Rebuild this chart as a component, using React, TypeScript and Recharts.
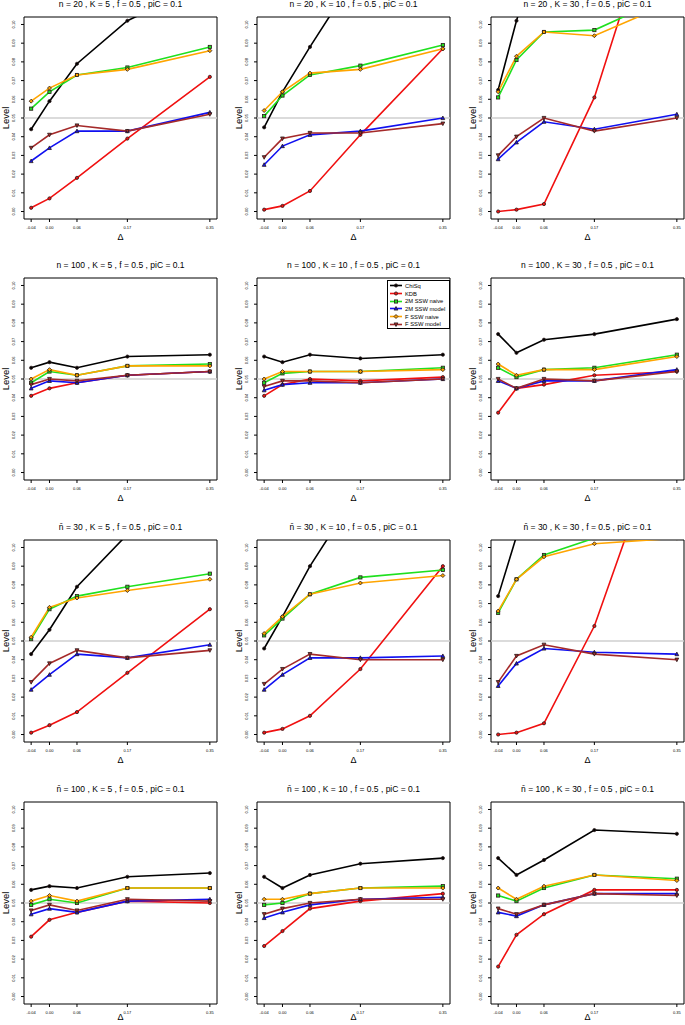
import React from 'react';
import { LineChart, Line, XAxis, YAxis, ReferenceLine, ReferenceArea } from 'recharts';

// x positions (Delta) shared by every panel
const deltas = [-0.04, 0.0, 0.06, 0.17, 0.35];
const levelTicks = [0, 0.01, 0.02, 0.03, 0.04, 0.05, 0.06, 0.07, 0.08, 0.09, 0.1];

const panelTitles = [
  'n = 20 , K = 5 , f = 0.5 , piC = 0.1',
  'n = 20 , K = 10 , f = 0.5 , piC = 0.1',
  'n = 20 , K = 30 , f = 0.5 , piC = 0.1',
  'n = 100 , K = 5 , f = 0.5 , piC = 0.1',
  'n = 100 , K = 10 , f = 0.5 , piC = 0.1',
  'n = 100 , K = 30 , f = 0.5 , piC = 0.1',
  'n\u0304 = 30 , K = 5 , f = 0.5 , piC = 0.1',
  'n\u0304 = 30 , K = 10 , f = 0.5 , piC = 0.1',
  'n\u0304 = 30 , K = 30 , f = 0.5 , piC = 0.1',
  'n\u0304 = 100 , K = 5 , f = 0.5 , piC = 0.1',
  'n\u0304 = 100 , K = 10 , f = 0.5 , piC = 0.1',
  'n\u0304 = 100 , K = 30 , f = 0.5 , piC = 0.1',
];

// one row per panel (row-major), one value per delta
const chiSq = [
  [0.044, 0.059, 0.079, 0.102, 0.123],
  [0.045, 0.064, 0.088, 0.13, 0.16],
  [0.065, 0.102, 0.15, 0.2, 0.25],
  [0.056, 0.059, 0.056, 0.062, 0.063],
  [0.062, 0.059, 0.063, 0.061, 0.063],
  [0.074, 0.064, 0.071, 0.074, 0.082],
  [0.043, 0.056, 0.079, 0.107, 0.13],
  [0.046, 0.063, 0.09, 0.132, 0.16],
  [0.074, 0.106, 0.15, 0.2, 0.25],
  [0.057, 0.059, 0.058, 0.064, 0.066],
  [0.064, 0.058, 0.065, 0.071, 0.074],
  [0.074, 0.065, 0.073, 0.089, 0.087],
];

const kdb = [
  [0.002, 0.007, 0.018, 0.039, 0.072],
  [0.001, 0.003, 0.011, 0.041, 0.087],
  [0.0, 0.001, 0.004, 0.061, 0.2],
  [0.041, 0.045, 0.048, 0.052, 0.054],
  [0.041, 0.047, 0.05, 0.049, 0.051],
  [0.032, 0.045, 0.047, 0.052, 0.054],
  [0.001, 0.005, 0.012, 0.033, 0.067],
  [0.001, 0.003, 0.01, 0.035, 0.09],
  [0.0, 0.001, 0.006, 0.058, 0.183],
  [0.032, 0.041, 0.045, 0.051, 0.05],
  [0.027, 0.035, 0.047, 0.051, 0.055],
  [0.016, 0.033, 0.044, 0.057, 0.057],
];

const ssw2mNaive = [
  [0.055, 0.064, 0.073, 0.077, 0.088],
  [0.051, 0.062, 0.073, 0.078, 0.089],
  [0.061, 0.081, 0.096, 0.097, 0.117],
  [0.048, 0.054, 0.052, 0.057, 0.058],
  [0.048, 0.053, 0.054, 0.054, 0.056],
  [0.056, 0.051, 0.055, 0.056, 0.063],
  [0.051, 0.067, 0.074, 0.079, 0.086],
  [0.053, 0.062, 0.075, 0.084, 0.088],
  [0.065, 0.083, 0.096, 0.105, 0.11],
  [0.049, 0.052, 0.05, 0.058, 0.058],
  [0.049, 0.05, 0.055, 0.058, 0.059],
  [0.054, 0.051, 0.058, 0.065, 0.063],
];

const ssw2mModel = [
  [0.027, 0.034, 0.043, 0.043, 0.053],
  [0.025, 0.035, 0.041, 0.043, 0.05],
  [0.028, 0.037, 0.048, 0.044, 0.052],
  [0.045, 0.049, 0.048, 0.052, 0.054],
  [0.044, 0.047, 0.048, 0.048, 0.05],
  [0.049, 0.045, 0.049, 0.049, 0.055],
  [0.024, 0.032, 0.043, 0.041, 0.048],
  [0.024, 0.032, 0.041, 0.041, 0.042],
  [0.026, 0.038, 0.046, 0.044, 0.043],
  [0.044, 0.047, 0.045, 0.051, 0.052],
  [0.042, 0.045, 0.049, 0.052, 0.053],
  [0.045, 0.043, 0.049, 0.055, 0.055],
];

const fSswNaive = [
  [0.059, 0.066, 0.073, 0.076, 0.086],
  [0.054, 0.064, 0.074, 0.076, 0.087],
  [0.064, 0.083, 0.096, 0.094, 0.113],
  [0.05, 0.055, 0.052, 0.057, 0.057],
  [0.05, 0.054, 0.054, 0.054, 0.055],
  [0.058, 0.052, 0.055, 0.055, 0.062],
  [0.052, 0.068, 0.073, 0.077, 0.083],
  [0.054, 0.063, 0.075, 0.081, 0.085],
  [0.066, 0.083, 0.095, 0.102, 0.105],
  [0.051, 0.054, 0.051, 0.058, 0.058],
  [0.052, 0.052, 0.055, 0.058, 0.058],
  [0.058, 0.052, 0.059, 0.065, 0.062],
];

const fSswModel = [
  [0.034, 0.041, 0.046, 0.043, 0.052],
  [0.029, 0.039, 0.042, 0.042, 0.047],
  [0.03, 0.04, 0.05, 0.043, 0.05],
  [0.047, 0.05, 0.049, 0.052, 0.054],
  [0.046, 0.049, 0.049, 0.048, 0.05],
  [0.05, 0.045, 0.05, 0.049, 0.054],
  [0.028, 0.038, 0.045, 0.041, 0.045],
  [0.027, 0.035, 0.043, 0.04, 0.04],
  [0.028, 0.042, 0.048, 0.043, 0.04],
  [0.046, 0.049, 0.046, 0.052, 0.051],
  [0.044, 0.047, 0.05, 0.052, 0.052],
  [0.047, 0.044, 0.049, 0.055, 0.054],
];

const series = [
  { key: 'chisq', name: 'ChiSq', color: '#000000', shape: 'circle', values: chiSq },
  { key: 'kdb', name: 'KDB', color: '#f01010', shape: 'circle', values: kdb },
  { key: 'm2naive', name: '2M SSW naive', color: '#1fe01f', shape: 'square', values: ssw2mNaive },
  { key: 'm2model', name: '2M SSW model', color: '#1010f0', shape: 'triangle', values: ssw2mModel },
  { key: 'fnaive', name: 'F SSW naive', color: '#ffa500', shape: 'diamond', values: fSswNaive },
  { key: 'fmodel', name: 'F SSW model', color: '#a52a2a', shape: 'down', values: fSswModel },
];

const FONT = "'Liberation Sans', Arial, sans-serif";
const X_DOMAIN = [-0.0556, 0.3656];
const Y_DOMAIN = [-0.004, 0.104];

const BOX_LEFT = [24, 257, 491];
const BOX_TOP = [17, 278, 540, 802];
const BOX_W = 193;
const BOX_H = 202;
const AXIS_W = 24;
const MARGIN_TOP = 17;

const Marker = ({ shape, color, cx, cy }: any) => {
  const s = 1.6;
  const stroke = '#2a1a1a';
  if (shape === 'square')
    return <rect x={cx - s} y={cy - s} width={2 * s} height={2 * s} fill={color} stroke={stroke} strokeWidth={0.8} />;
  if (shape === 'triangle')
    return <polygon points={`${cx},${cy - s - 0.4} ${cx + s + 0.3},${cy + s} ${cx - s - 0.3},${cy + s}`} fill={color} stroke={stroke} strokeWidth={0.8} />;
  if (shape === 'down')
    return <polygon points={`${cx},${cy + s + 0.4} ${cx + s + 0.3},${cy - s} ${cx - s - 0.3},${cy - s}`} fill={color} stroke={stroke} strokeWidth={0.8} />;
  if (shape === 'diamond')
    return <polygon points={`${cx},${cy - s - 0.4} ${cx + s + 0.4},${cy} ${cx},${cy + s + 0.4} ${cx - s - 0.4},${cy}`} fill={color} stroke={stroke} strokeWidth={0.8} />;
  return <circle cx={cx} cy={cy} r={s} fill={color} stroke={stroke} strokeWidth={0.8} />;
};

const makeDot = (shape: string, color: string) => (props: any) => {
  const { cx, cy, index } = props;
  if (cx == null || cy == null) return <g key={index} />;
  return <Marker key={index} shape={shape} color={color} cx={cx} cy={cy} />;
};

const YTick = (props: any) => {
  const { x, y, payload } = props;
  return (
    <text x={x} y={y} transform={`rotate(-90 ${x} ${y})`} textAnchor="middle" fontSize={4} fill="#000" fontFamily={FONT}>
      {Number(payload.value).toFixed(2)}
    </text>
  );
};

const Panel = ({ index }: { index: number }) => {
  const row = Math.floor(index / 3);
  const col = index % 3;
  const left = BOX_LEFT[col];
  const top = BOX_TOP[row];

  const data = deltas.map((d, i) => {
    const point: any = { delta: d };
    series.forEach((s) => {
      point[s.key] = s.values[index][i];
    });
    return point;
  });

  return (
    <>
      <div style={{ position: 'absolute', left: left - AXIS_W, top: top - MARGIN_TOP }}>
        <LineChart
          width={AXIS_W + BOX_W + 4}
          height={MARGIN_TOP + BOX_H + 28}
          data={data}
          margin={{ top: MARGIN_TOP, right: 4, bottom: 0, left: 0 }}
        >
          <XAxis
            dataKey="delta"
            type="number"
            domain={X_DOMAIN}
            ticks={deltas}
            interval={0}
            allowDataOverflow
            axisLine={false}
            tickLine={{ stroke: '#000' }}
            tickSize={3}
            tickMargin={4}
            tick={{ fontSize: 4, fill: '#000', fontFamily: FONT }}
            tickFormatter={(v: number) => v.toFixed(2)}
            height={28}
          />
          <YAxis
            type="number"
            domain={Y_DOMAIN}
            ticks={levelTicks}
            interval={0}
            allowDataOverflow
            axisLine={false}
            tickLine={{ stroke: '#000' }}
            tickSize={3}
            tickMargin={6}
            tick={<YTick />}
            width={AXIS_W}
          />
          <ReferenceLine y={0.05} stroke="#cfcfcf" strokeWidth={1.5} />
          {series.map((s) => (
            <Line
              key={s.key}
              type="linear"
              dataKey={s.key}
              name={s.name}
              stroke={s.color}
              strokeWidth={1.6}
              dot={makeDot(s.shape, s.color)}
              activeDot={false}
              isAnimationActive={false}
            />
          ))}
          <ReferenceArea x1={X_DOMAIN[0]} x2={X_DOMAIN[1]} y1={Y_DOMAIN[0]} y2={Y_DOMAIN[1]} fill="none" stroke="#000" strokeWidth={1} />
        </LineChart>
      </div>
      <div
        style={{
          position: 'absolute',
          left: left + BOX_W / 2,
          top: top - 13,
          transform: 'translate(-50%, -50%)',
          whiteSpace: 'nowrap',
          fontSize: 8.5,
          fontFamily: FONT,
        }}
      >
        {panelTitles[index]}
      </div>
      <div
        style={{
          position: 'absolute',
          left: left - 19,
          top: top + BOX_H / 2,
          transform: 'translate(-50%, -50%) rotate(-90deg)',
          fontSize: 9.5,
          fontFamily: FONT,
        }}
      >
        Level
      </div>
      <div
        style={{
          position: 'absolute',
          left: left + BOX_W / 2,
          top: Math.min(top + BOX_H + 18, 1017),
          transform: 'translate(-50%, -50%)',
          fontSize: 9,
          lineHeight: '10px',
          fontFamily: FONT,
        }}
      >
        Δ
      </div>
    </>
  );
};

const LegendBox = () => (
  <div
    style={{
      position: 'absolute',
      left: 387,
      top: 280,
      width: 63,
      height: 49,
      border: '1px solid #000',
      background: '#fff',
      fontFamily: FONT,
      fontSize: 5.8,
      paddingTop: 1,
      boxSizing: 'border-box',
    }}
  >
    {series.map((s) => (
      <div key={s.key} style={{ display: 'flex', alignItems: 'center', height: 7.7 }}>
        <svg width={16} height={7} style={{ marginLeft: 1 }}>
          <line x1={1} y1={3.5} x2={13} y2={3.5} stroke={s.color} strokeWidth={1.6} />
          <Marker shape={s.shape} color={s.color} cx={7} cy={3.5} />
        </svg>
        <span>{s.name}</span>
      </div>
    ))}
  </div>
);

export default function App() {
  return (
    <div style={{ position: 'absolute', left: 0, top: 0, width: 685, height: 1025, overflow: 'hidden', background: '#fff' }}>
      {panelTitles.map((_, i) => (
        <Panel key={i} index={i} />
      ))}
      <LegendBox />
    </div>
  );
}
